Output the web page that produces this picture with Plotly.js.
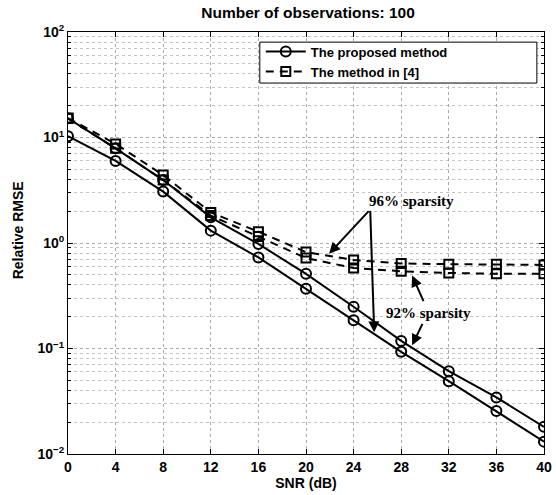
<!DOCTYPE html>
<html>
<head>
<meta charset="utf-8">
<script src="https://cdn.plot.ly/plotly-3.0.1.min.js"></script>
<style>html,body{margin:0;padding:0;background:#fff;}#chart{width:556px;height:495px;}</style>
</head>
<body>
<div id="chart"></div>
<script>
// SNR values (dB)
const snr = [0, 4, 8, 12, 16, 20, 24, 28, 32, 36, 40];
const xTickLabels = ['0','4','8','12','16','20','24','28','32','36','40'];
// y-axis decade ticks
const yTickVals = [0.01, 0.1, 1, 10, 100];
const yTickLabels = ['10<sup>−2</sup>', '10<sup>−1</sup>', '10<sup>0</sup>', '10<sup>1</sup>', '10<sup>2</sup>'];
// The proposed method (two sparsity levels)
const proposedA = [15.2, 7.9, 3.95, 1.75, 0.98, 0.51, 0.249, 0.118, 0.061, 0.0344, 0.0181];
const proposedB = [10.3, 6.0, 3.07, 1.31, 0.73, 0.368, 0.185, 0.093, 0.049, 0.0255, 0.0131];
// The method in [4] (two sparsity levels)
const ref4A = [15.3, 8.7, 4.4, 1.95, 1.28, 0.82, 0.69, 0.64, 0.63, 0.63, 0.62];
const ref4B = [15.1, 7.9, 3.95, 1.82, 1.15, 0.72, 0.58, 0.54, 0.52, 0.51, 0.51];

const lineSolid = {color: '#000', width: 2, dash: 'solid'};
const lineDash = {color: '#000', width: 2, dash: '8px,6px'};
const circ = {symbol: 'circle-open', size: 10, color: '#000', line: {width: 2, color: '#000'}};
const sq = {symbol: 'square-open', size: 9, color: '#000', line: {width: 2, color: '#000'}};

const traces = [
  {x: snr, y: ref4A, mode: 'lines+markers', line: lineDash, marker: sq, name: 'The method in [4]', legendgroup: 'r', showlegend: true, legendrank: 2},
  {x: snr, y: ref4B, mode: 'lines+markers', line: lineDash, marker: sq, name: 'The method in [4]', legendgroup: 'r', showlegend: false},
  {x: snr, y: proposedA, mode: 'lines+markers', line: lineSolid, marker: circ, name: 'The proposed method', legendgroup: 'p', showlegend: true, legendrank: 1},
  {x: snr, y: proposedB, mode: 'lines+markers', line: lineSolid, marker: circ, name: 'The proposed method', legendgroup: 'p', showlegend: false}
];

const boldFont = {family: 'Liberation Sans, Arial, sans-serif', size: 14, color: '#000', weight: 'bold'};
const titleFont = {family: 'Liberation Sans, Arial, sans-serif', size: 15.5, color: '#000', weight: 'bold'};
const timesFont = {family: 'Liberation Serif, Times New Roman, serif', size: 15, color: '#000', weight: 'bold'};

function arrow(x, logy, ax, ay) {
  return {x: x, y: logy, xref: 'x', yref: 'y', text: '', showarrow: true,
    arrowhead: 2, arrowsize: 1.1, arrowwidth: 2, arrowcolor: '#000', ax: ax, ay: ay, standoff: 0};
}

const layout = {
  width: 556, height: 495,
  margin: {l: 68, r: 12, t: 32, b: 41},
  paper_bgcolor: '#fff', plot_bgcolor: '#fff',
  title: {text: 'Number of observations: 100', font: titleFont, x: 0.554, xanchor: 'center', y: 0.974, yanchor: 'middle'},
  showlegend: true,
  legend: {x: 0.405, y: 0.989, xanchor: 'left', yanchor: 'top', bgcolor: 'rgba(0,0,0,0)', borderwidth: 0,
    font: {family: 'Liberation Sans, Arial, sans-serif', size: 13, color: '#000', weight: 'bold'},
    traceorder: 'normal', itemwidth: 40, tracegroupgap: 0},
  shapes: [
    {type: 'rect', xref: 'paper', yref: 'paper', x0: 0.403, x1: 0.985, y0: 0.879, y1: 0.976,
      fillcolor: '#fff', line: {color: '#000', width: 1}, layer: 'above'}
  ],
  xaxis: {
    range: [0, 40], tickvals: snr, ticktext: xTickLabels,
    ticks: 'inside', ticklen: 5, tickcolor: '#000', showline: true, linecolor: '#000', linewidth: 1, mirror: 'ticks',
    showgrid: true, gridcolor: '#aaa', griddash: 'dot', gridwidth: 1, zeroline: false,
    tickfont: boldFont,
    title: {text: 'SNR (dB)', font: boldFont, standoff: 2}
  },
  yaxis: {
    type: 'log', range: [-2, 2], tickvals: yTickVals, ticktext: yTickLabels,
    ticks: 'inside', ticklen: 5, tickcolor: '#000', showline: true, linecolor: '#000', linewidth: 1, mirror: 'ticks',
    showgrid: true, gridcolor: '#aaa', griddash: 'dot', gridwidth: 1, zeroline: false,
    tickfont: boldFont,
    minor: {dtick: 'D1', showgrid: true, gridcolor: '#c4c4c4', griddash: 'dot', gridwidth: 1, ticks: 'inside', ticklen: 3, tickcolor: '#000'}
  },
  annotations: [
    {text: 'Relative RMSE', xref: 'paper', yref: 'paper', x: 0, y: 0.53, xshift: -50, textangle: -90,
      showarrow: false, font: boldFont, xanchor: 'center', yanchor: 'middle'},
    {text: '96% sparsity', xref: 'x', yref: 'y', x: 28.9, y: 0.399, showarrow: false, font: timesFont},
    {text: '92% sparsity', xref: 'x', yref: 'y', x: 30.3, y: -0.668, showarrow: false, font: timesFont},
    arrow(21.94, -0.101, 41, -44),
    arrow(25.73, -0.847, -4, -123),
    arrow(28.92, -0.309, 12, 27),
    arrow(28.92, -0.970, 11, -23)
  ]
};

Plotly.newPlot('chart', traces, layout, {displayModeBar: false, staticPlot: true});
</script>
</body>
</html>
